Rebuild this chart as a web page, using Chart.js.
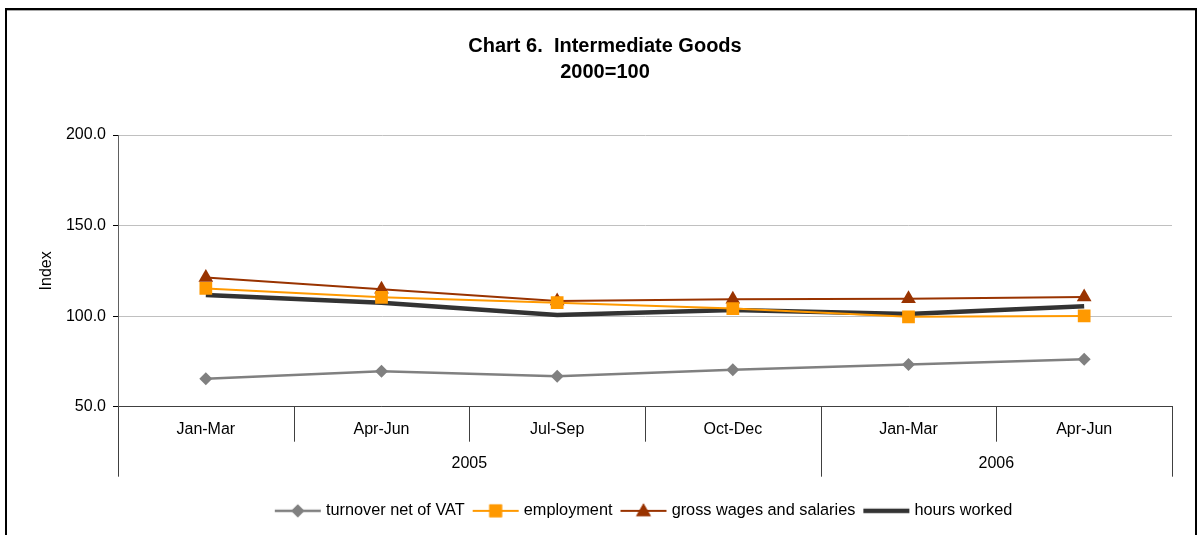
<!DOCTYPE html>
<html>
<head>
<meta charset="utf-8">
<script src="https://cdn.jsdelivr.net/npm/chart.js@4.4.1/dist/chart.umd.min.js"></script>
<style>
  html, body { margin: 0; padding: 0; background: #fff; }
  body { width: 1199px; height: 535px; overflow: hidden; position: relative; }
  #wrap { position: absolute; left: 0; top: 0; width: 1199px; height: 535px; }
  #frame { position: absolute; left: 5px; top: 8px; width: 1188px; height: 540px;
           border-left: 2px solid #000; border-top: 2px solid #000; border-right: 2px solid #000;
           box-shadow: inset 0 1px 0 #a8a8a8; pointer-events: none; }
</style>
</head>
<body>
<div id="wrap"><canvas id="c" width="1199" height="535"></canvas></div>
<div id="frame"></div>
<script>
const quarters = ['Jan-Mar', 'Apr-Jun', 'Jul-Sep', 'Oct-Dec', 'Jan-Mar', 'Apr-Jun'];
const years = ['2005', '2006'];
const yearSpans = [4, 2];
const yTicks = [50, 100, 150, 200];

const turnover = [65.4, 69.6, 66.8, 70.4, 73.3, 76.2];
const employment = [115.3, 110.4, 107.4, 104.2, 99.6, 100.1];
const wages = [121.3, 114.9, 108.3, 109.3, 109.6, 110.5];
const hours = [111.6, 107.4, 100.6, 103.4, 101.2, 105.5];

const FONT = "'Liberation Sans', Arial, sans-serif";

function legendIcon(color, lineW, style, r) {
  const c = document.createElement('canvas');
  c.width = 48; c.height = 20;
  const ctx = c.getContext('2d');
  ctx.strokeStyle = color; ctx.lineWidth = lineW;
  ctx.beginPath(); ctx.moveTo(1, 10); ctx.lineTo(47, 10); ctx.stroke();
  ctx.fillStyle = color;
  if (style) {
    Chart.helpers.drawPoint(ctx, {pointStyle: style, radius: r, borderWidth: 0, rotation: 0}, 24, style === 'triangle' ? 11 : 10);
    ctx.fill();
  }
  return c;
}

const groupAxis = {
  id: 'groupAxis',
  afterDraw(chart) {
    const x = chart.scales.x, ctx = chart.ctx;
    const top = chart.chartArea.bottom;
    const step = x.getPixelForValue(1) - x.getPixelForValue(0);
    const edge = i => x.getPixelForValue(0) - step / 2 + i * step;
    ctx.save();
    ctx.strokeStyle = '#404040';
    ctx.lineWidth = 1;
    const groupEdges = [0];
    let acc = 0;
    yearSpans.forEach(s => { acc += s; groupEdges.push(acc); });
    for (let i = 0; i <= quarters.length; i++) {
      const px = Math.round(edge(i)) + 0.5;
      const len = groupEdges.includes(i) ? 70 : 35;
      ctx.beginPath(); ctx.moveTo(px, top); ctx.lineTo(px, top + len); ctx.stroke();
    }
    ctx.fillStyle = '#000';
    ctx.font = '16px ' + FONT;
    ctx.textAlign = 'center';
    ctx.textBaseline = 'middle';
    for (let g = 0; g < years.length; g++) {
      const cx = (edge(groupEdges[g]) + edge(groupEdges[g + 1])) / 2;
      ctx.fillText(years[g], cx, top + 57);
    }
    ctx.restore();
  }
};

const icons = [
  legendIcon('#808080', 2.5, 'rectRot', 6.5),
  legendIcon('#FF9900', 2, 'rect', 9),
  legendIcon('#993300', 2, 'triangle', 8.5),
  legendIcon('#333333', 4.5, null, 0)
];

new Chart(document.getElementById('c'), {
  type: 'line',
  data: {
    labels: quarters,
    datasets: [
      { label: 'turnover net of VAT', data: turnover, borderColor: '#808080', backgroundColor: '#808080',
        borderWidth: 2.5, pointStyle: 'rectRot', pointRadius: 6.5, pointBorderWidth: 0, tension: 0 },
      { label: 'employment', data: employment, borderColor: '#FF9900', backgroundColor: '#FF9900',
        borderWidth: 2, pointStyle: 'rect', pointRadius: 9, pointBorderWidth: 0, tension: 0 },
      { label: 'gross wages and salaries', data: wages, borderColor: '#993300', backgroundColor: '#993300',
        borderWidth: 2, pointStyle: 'triangle', pointRadius: 8.5, pointBorderWidth: 0, tension: 0 },
      { label: 'hours worked', data: hours, borderColor: '#333333', backgroundColor: '#333333',
        borderWidth: 4.5, pointRadius: 0, tension: 0 }
    ]
  },
  options: {
    responsive: false,
    animation: false,
    events: [],
    layout: { padding: { left: 38, right: 27, top: 0, bottom: 6 } },
    plugins: {
      tooltip: { enabled: false },
      title: {
        display: true,
        text: ['Chart 6.  Intermediate Goods', '2000=100'],
        color: '#000',
        font: { family: FONT, size: 20, weight: 'bold', lineHeight: 1.3 },
        padding: { top: 33, bottom: 50 }
      },
      legend: {
        position: 'bottom',
        fullSize: false,
        labels: {
          color: '#000',
          font: { family: FONT, size: 16.3 },
          usePointStyle: true,
          pointStyleWidth: 40,
          boxHeight: 16,
          padding: 11,
          generateLabels(chart) {
            return chart.data.datasets.map((ds, i) => ({
              text: ds.label, pointStyle: icons[i], fillStyle: ds.borderColor,
              strokeStyle: ds.borderColor, lineWidth: 0, hidden: false, datasetIndex: i, fontColor: '#000'
            }));
          }
        }
      }
    },
    scales: {
      x: {
        offset: true,
        grid: { display: false, drawTicks: false, offset: true },
        border: { display: true, color: '#404040', width: 1 },
        ticks: { color: '#000', font: { family: FONT, size: 16 }, padding: 13, maxRotation: 0, autoSkip: false },
        afterFit(s) { s.height = 85; }
      },
      y: {
        min: 50, max: 200,
        afterBuildTicks(s) { s.ticks = yTicks.map(v => ({ value: v })); },
        grid: { color: '#c0c0c0', tickColor: '#000', tickLength: 5, drawOnChartArea: true },
        border: { display: true, color: '#606060', width: 1 },
        ticks: { color: '#000', font: { family: FONT, size: 16 }, padding: 7,
                 callback: v => Number(v).toFixed(1) },
        title: { display: true, text: 'Index', color: '#000', font: { family: FONT, size: 16 },
                 padding: { top: -1, bottom: 0 } },
        afterFit(s) { s.width = 80; }
      }
    }
  },
  plugins: [groupAxis]
});
</script>
</body>
</html>
